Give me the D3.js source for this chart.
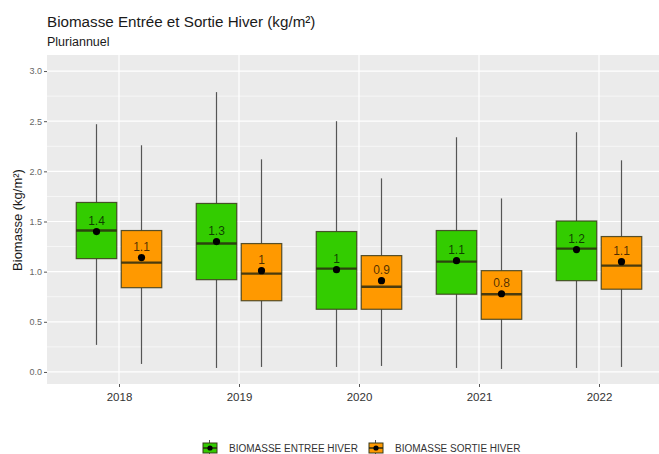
<!DOCTYPE html>
<html>
<head>
<meta charset="utf-8">
<script src="https://cdn.jsdelivr.net/npm/d3@7"></script>
<style>
  body { margin: 0; background: #fff; }
  svg { display: block; font-family: "Liberation Sans", Arial, sans-serif; }
</style>
</head>
<body>
<svg id="chart" width="659" height="454"></svg>
<script>
// Years on the x axis
const years = ["2018", "2019", "2020", "2021", "2022"];
const seriesNames = ["BIOMASSE ENTREE HIVER", "BIOMASSE SORTIE HIVER"];
const seriesColors = ["#33CC00", "#FF9900"];

// Box statistics per year (kg/m²)
const entreeLow    = [0.27, 0.04, 0.05, 0.04, 0.04];
const entreeQ1     = [1.13, 0.92, 0.625, 0.775, 0.91];
const entreeMedian = [1.41, 1.28, 1.03, 1.10, 1.23];
const entreeQ3     = [1.69, 1.68, 1.40, 1.41, 1.505];
const entreeHigh   = [2.47, 2.79, 2.50, 2.34, 2.39];
const entreeMean   = [1.40, 1.30, 1.02, 1.11, 1.22];

const sortieLow    = [0.08, 0.05, 0.06, 0.03, 0.05];
const sortieQ1     = [0.84, 0.71, 0.625, 0.525, 0.825];
const sortieMedian = [1.09, 0.98, 0.85, 0.775, 1.06];
const sortieQ3     = [1.41, 1.28, 1.16, 1.01, 1.35];
const sortieHigh   = [2.26, 2.12, 1.93, 1.73, 2.11];
const sortieMean   = [1.14, 1.01, 0.91, 0.78, 1.10];

const yTicks = [0, 0.5, 1.0, 1.5, 2.0, 2.5, 3.0];
const yMinor = [0.25, 0.75, 1.25, 1.75, 2.25, 2.75];

const rows = [];
years.forEach((yr, i) => {
  rows.push({ year: yr, s: 0, low: entreeLow[i], q1: entreeQ1[i], med: entreeMedian[i], q3: entreeQ3[i], high: entreeHigh[i], mean: entreeMean[i] });
  rows.push({ year: yr, s: 1, low: sortieLow[i], q1: sortieQ1[i], med: sortieMedian[i], q3: sortieQ3[i], high: sortieHigh[i], mean: sortieMean[i] });
});

const svg = d3.select("#chart");
const panel = { left: 47, right: 671, top: 55, bottom: 384 };

const x = d3.scalePoint().domain(years).range([panel.left, panel.right]).padding(0.6);
const y = d3.scaleLinear().domain([-0.12, 3.16]).range([panel.bottom, panel.top]);
const step = x.step();
const dodge = d3.scaleBand().domain([0, 1]).range([-0.375 * step, 0.375 * step]);
const boxW = dodge.bandwidth() * 0.9;
const cx = d => x(d.year) + dodge(d.s) + dodge.bandwidth() / 2;

// Titles
svg.append("text").attr("x", 47).attr("y", 27).attr("font-size", 15.2).attr("fill", "#1a1a1a")
  .text("Biomasse Entrée et Sortie Hiver (kg/m²)");
svg.append("text").attr("x", 47).attr("y", 46).attr("font-size", 12.5).attr("fill", "#1a1a1a")
  .text("Pluriannuel");

// Panel background and grid
svg.append("rect").attr("x", panel.left).attr("y", panel.top)
  .attr("width", 659 - panel.left).attr("height", panel.bottom - panel.top).attr("fill", "#EBEBEB");

const grid = svg.append("g");
grid.selectAll(".minor").data(yMinor).join("line")
  .attr("x1", panel.left).attr("x2", 659).attr("y1", d => y(d)).attr("y2", d => y(d))
  .attr("stroke", "#fff").attr("stroke-width", 0.6);
grid.selectAll(".major").data(yTicks).join("line")
  .attr("x1", panel.left).attr("x2", 659).attr("y1", d => y(d)).attr("y2", d => y(d))
  .attr("stroke", "#fff").attr("stroke-width", 1.2);
grid.selectAll(".vmajor").data(years).join("line")
  .attr("x1", d => x(d)).attr("x2", d => x(d)).attr("y1", panel.top).attr("y2", panel.bottom)
  .attr("stroke", "#fff").attr("stroke-width", 1.2);

// Y axis
const yAxis = svg.append("g").attr("transform", `translate(${panel.left},0)`)
  .call(d3.axisLeft(y).tickValues(yTicks).tickFormat(d3.format(".1f")).tickSize(3).tickPadding(2));
yAxis.select(".domain").remove();
yAxis.selectAll("line").attr("stroke", "#555");
yAxis.selectAll("text").attr("font-size", 9).attr("fill", "#666").attr("font-family", "Liberation Sans, Arial, sans-serif");

// X axis
const xAxis = svg.append("g").attr("transform", `translate(0,${panel.bottom})`)
  .call(d3.axisBottom(x).tickSize(3).tickPadding(6));
xAxis.select(".domain").remove();
xAxis.selectAll("line").attr("stroke", "#555");
xAxis.selectAll("text").attr("font-size", 11.5).attr("fill", "#333").attr("font-family", "Liberation Sans, Arial, sans-serif");

// Y axis title
svg.append("text").attr("transform", `translate(22,220) rotate(-90)`)
  .attr("text-anchor", "middle").attr("font-size", 13).attr("fill", "#1a1a1a")
  .text("Biomasse (kg/m²)");

// Boxplots
const boxes = svg.append("g").selectAll("g").data(rows).join("g");
boxes.append("line")
  .attr("x1", cx).attr("x2", cx).attr("y1", d => y(d.high)).attr("y2", d => y(d.q3))
  .attr("stroke", "#555").attr("stroke-width", 1.2);
boxes.append("line")
  .attr("x1", cx).attr("x2", cx).attr("y1", d => y(d.q1)).attr("y2", d => y(d.low))
  .attr("stroke", "#555").attr("stroke-width", 1.2);
boxes.append("rect")
  .attr("x", d => cx(d) - boxW / 2).attr("width", boxW)
  .attr("y", d => y(d.q3)).attr("height", d => y(d.q1) - y(d.q3))
  .attr("fill", d => seriesColors[d.s]).attr("stroke", "#3a3a1a").attr("stroke-opacity", 0.85).attr("stroke-width", 1.2);
boxes.append("line")
  .attr("x1", d => cx(d) - boxW / 2).attr("x2", d => cx(d) + boxW / 2)
  .attr("y1", d => y(d.med)).attr("y2", d => y(d.med))
  .attr("stroke", "#2a2a10").attr("stroke-opacity", 0.85).attr("stroke-width", 2.4);
boxes.append("circle")
  .attr("cx", cx).attr("cy", d => y(d.mean)).attr("r", 3.6).attr("fill", "#000");
boxes.append("text")
  .attr("x", cx).attr("y", d => y(d.mean) - 7).attr("text-anchor", "middle")
  .attr("font-size", 12).attr("fill", "#000").attr("fill-opacity", 0.7)
  .text(d => String(Math.round(d.mean * 10) / 10));

// Legend
const legend = svg.append("g");
const legendX = [202, 368];
seriesNames.forEach((name, i) => {
  const g = legend.append("g").attr("transform", `translate(${legendX[i]},440)`);
  g.append("line").attr("x1", 7.5).attr("x2", 7.5).attr("y1", 0).attr("y2", 14).attr("stroke", "#555").attr("stroke-width", 1);
  g.append("rect").attr("x", 1).attr("y", 3).attr("width", 14).attr("height", 10)
    .attr("fill", seriesColors[i]).attr("stroke", "#3a3a1a").attr("stroke-width", 1);
  g.append("line").attr("x1", 1).attr("x2", 15).attr("y1", 8).attr("y2", 8).attr("stroke", "#2a2a10").attr("stroke-width", 1.5);
  g.append("circle").attr("cx", 8).attr("cy", 8).attr("r", 2.6).attr("fill", "#000");
  g.append("text").attr("x", 27).attr("y", 12).attr("font-size", 10).attr("fill", "#333")
    .text(name);
});
</script>
</body>
</html>
